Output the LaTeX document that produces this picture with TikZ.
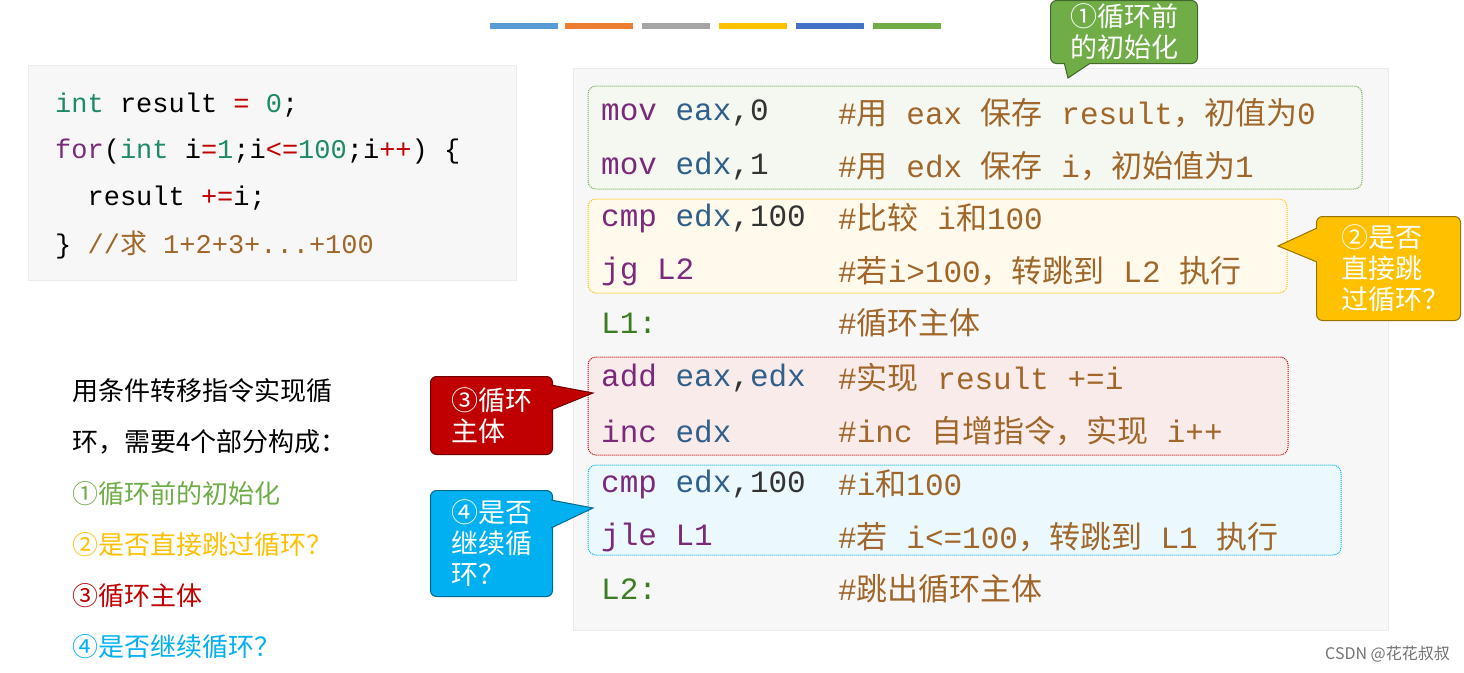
\documentclass[tikz,border=0pt]{standalone}
\usepackage{fontspec}
\setmonofont{Liberation Mono}
\newfontfamily\cjk{Noto Sans CJK SC}
\newcommand\C[1]{{\cjk #1}}
\definecolor{mn}{HTML}{7B2A7B}\definecolor{rg}{HTML}{2F5F8A}
\definecolor{cm}{HTML}{A0662A}\definecolor{lb}{HTML}{3B7D23}
\definecolor{cg}{HTML}{70AD47}\definecolor{cy}{HTML}{FFC000}
\definecolor{cr}{HTML}{C00000}\definecolor{cb}{HTML}{00B0F0}
\definecolor{kw}{HTML}{1E8A6A}
\begin{document}
\begin{tikzpicture}[x=1pt,y=-1pt,
 asm/.style={anchor=west,inner sep=0,font=\ttfamily\fontsize{31}{31}\selectfont},
 cc/.style={anchor=west,inner sep=0,font=\ttfamily\fontsize{27}{27}\selectfont},
 lt/.style={anchor=west,inner sep=0,font=\cjk\fontsize{26}{26}\selectfont},
 grp/.style={draw=#1,densely dotted,line width=1pt,rounded corners=8pt,fill=#1!8},
 call/.style={draw=#1!60!black,fill=#1,rounded corners=6pt,line width=1pt,text=white,align=left,font=\cjk\fontsize{27}{31}\selectfont,inner sep=3pt}]
\useasboundingbox (0,0) rectangle (1464,672);
\fill[white] (0,0) rectangle (1464,672);
% bars
\foreach \a/\c in {490/5B9BD5,565/ED7D31,642/A5A5A5,719/FFC000,796/4472C4,873/70AD47}
 {\definecolor{tmp}{HTML}{\c}\fill[tmp] (\a,23) rectangle ++(68,6);}
% C code box
\node[draw=black!8,fill=black!3,minimum width=488,minimum height=215,anchor=north west,inner sep=0] (cbox) at (28,65) {};
\node[cc] (c1) at (55,105) {\color{kw}int \color{black}result \color{cr}= \color{kw}0\color{black};};
\node[cc] (c2) at (55,152) {\color{mn}for\color{black}(\color{kw}int \color{black}i\color{cr}=\color{kw}1\color{black};i\color{cr}<=\color{kw}100\color{black};i\color{cr}++\color{black}) \{};
\node[cc] (c3) at (55,198) {\ \ result \color{cr}+=\color{black}i;};
\node[cc] (c4) at (55,245) {\} \color{cm}//\C{求} 1+2+3+...+100};
% asm box
\node[draw=black!8,fill=black!3,minimum width=815,minimum height=562,anchor=north west,inner sep=0] (abox) at (573,68) {};
\draw[grp=cg] (588,86) rectangle (1362,189);
\draw[grp=cy] (588,199) rectangle (1287,293);
\draw[grp=cr] (588,357) rectangle (1288,455);
\draw[grp=cb] (588,465) rectangle (1341,555);
\foreach \y/\ins/\com [count=\i] in {
 113/{\color{mn}mov \color{rg}eax\color{black!80},0}/{\#\C{用} eax \C{保存} result\C{，初值为}0},
 166/{\color{mn}mov \color{rg}edx\color{black!80},1}/{\#\C{用} edx \C{保存} i\C{，初始值为}1},
 218/{\color{mn}cmp \color{rg}edx\color{black!80},100}/{\#\C{比较} i\C{和}100},
 271/{\color{mn}jg L2}/{\#\C{若}i>100\C{，转跳到} L2 \C{执行}},
 323/{\color{lb}L1:}/{\#\C{循环主体}},
 378/{\color{mn}add \color{rg}eax\color{black!80},\color{rg}edx}/{\#\C{实现} result +=i},
 431/{\color{mn}inc \color{rg}edx}/{\#inc \C{自增指令，实现} i++},
 484/{\color{mn}cmp \color{rg}edx\color{black!80},100}/{\#i\C{和}100},
 537/{\color{mn}jle L1}/{\#\C{若} i<=100\C{，转跳到} L1 \C{执行}},
 589/{\color{lb}L2:}/{\#\C{跳出循环主体}}}
 {\node[asm] (i\i) at (601,\y) {\ins};
  \node[asm,text=cm] (m\i) at (838,\y) {\com};}
% callouts
\node[call=cg,minimum width=147,minimum height=63,anchor=north west] (k1) at (1050,0) {①循环前\\的初始化};
\fill[cg,draw=cg!60!black,line width=1pt] (1064,62) -- (1068,78) -- (1092,62);
\fill[cg] (1063,60) rectangle (1093,63);
\node[call=cy,minimum width=144,minimum height=104,anchor=north west] (k2) at (1316,216) {\hspace*{0.5em}②是否\\\hspace*{0.5em}直接跳\\\hspace*{0.5em}过循环？};
\fill[cy,draw=cy!60!black,line width=1pt] (1317,228) -- (1278,246) -- (1317,262);
\fill[cy] (1317,227) rectangle (1320,263);
\node[call=cr,minimum width=122,minimum height=78,anchor=north west] (k3) at (430,376) {③循环\\主体};
\fill[cr,draw=cr!60!black,line width=1pt] (551,385) -- (593,393) -- (551,410);
\fill[cr] (548,384) rectangle (551,411);
\node[call=cb,minimum width=122,minimum height=106,anchor=north west] (k4) at (430,490) {④是否\\继续循\\环？};
\fill[cb,draw=cb!60!black,line width=1pt] (551,500) -- (593,508) -- (551,528);
\fill[cb] (548,499) rectangle (551,529);
% left text
\node[lt] (t1) at (72,391) {用条件转移指令实现循};
\node[lt] (t2) at (72,442) {环，需要4个部分构成：};
\node[lt,text=cg] (t3) at (72,494) {①循环前的初始化};
\node[lt,text=cy] (t4) at (72,545) {②是否直接跳过循环？};
\node[lt,text=cr] (t5) at (72,596) {③循环主体};
\node[lt,text=cb] (t6) at (72,647) {④是否继续循环？};
\node[anchor=east,inner sep=0,text=black!55,font=\cjk\fontsize{16}{16}\selectfont] (wm) at (1450,654) {CSDN @花花叔叔};
\end{tikzpicture}
\end{document}
